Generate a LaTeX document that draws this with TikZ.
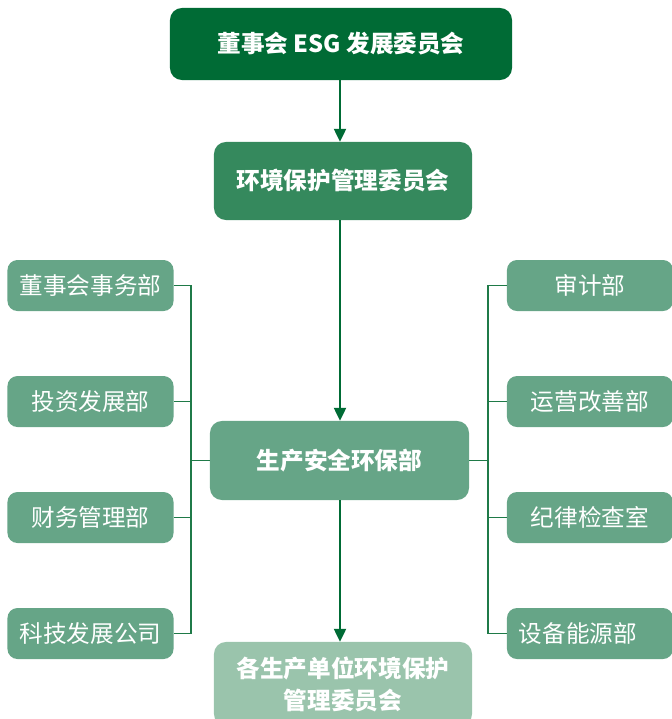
\documentclass[tikz,border=0pt]{standalone}
\usepackage{fontspec}
\setmainfont{Noto Sans CJK SC}
\usepackage{xcolor}
\usetikzlibrary{positioning,arrows.meta}
\definecolor{esgdark}{HTML}{006B35}
\definecolor{esgmid}{HTML}{35895D}
\definecolor{esglight}{HTML}{66A587}
\definecolor{esgpale}{HTML}{9AC4AC}
\definecolor{esgline}{HTML}{1F7A48}

\begin{document}
\begin{tikzpicture}[x=0.025cm, y=-0.025cm,
    box/.style={rounded corners=0.3cm, text=white, align=center, inner sep=0pt,
                font=\fontsize{16.8}{22.7}\selectfont},
    bigbox/.style={box, minimum width=6.45cm, minimum height=1.95cm, font=\fontsize{16.8}{22.7}\selectfont\bfseries},
    deptbox/.style={box, fill=esglight, rounded corners=0.25cm, minimum width=4.15cm, minimum height=1.275cm},
    flow/.style={draw=esgdark, line width=1.4pt, -{Triangle[length=0.32cm,width=0.3cm]}},
    bus/.style={draw=esgline, line width=0.9pt}]
    \useasboundingbox (0,0) rectangle (672,719);
    \node (board) [bigbox, fill=esgdark, minimum width=8.55cm, minimum height=1.8cm] at (341,44) {董事会 ESG 发展委员会};
    \node (envcom) [bigbox, fill=esgmid] at (343,181) {环境保护管理委员会};
    \node (safety) [bigbox, fill=esglight, minimum width=6.475cm, minimum height=1.975cm] at (339.5,460.5) {生产安全环保部};
    \node (units) [bigbox, fill=esgpale, minimum height=2.1cm] at (343,684) {各生产单位环境保护\\管理委员会};
    % left departments
    \node (boardoff) [deptbox] at (90.5,285.5) {董事会事务部};
    \node (invest) [deptbox] at (90.5,401.5) {投资发展部};
    \node (finance) [deptbox] at (90.5,517.5) {财务管理部};
    \node (tech) [deptbox] at (90.5,633.5) {科技发展公司};
    % right departments
    \node (audit) [deptbox] at (590,285.5) {审计部};
    \node (improve) [deptbox] at (590,401.5) {运营改善部};
    \node (discip) [deptbox] at (590,517.5) {纪律检查室};
    \node (energy) [deptbox] at (590,633.5) {设备能源部\hspace{0.6cm}};
    \coordinate (lbus) at (191,460.5);
    \coordinate (rbus) at (488,460.5);
    \draw [bus] (safety.west) -- (lbus);
    \draw [bus] (safety.east) -- (rbus);
    \foreach \d in {boardoff,invest,finance,tech}
        \draw [bus] (\d.east) -| (lbus);
    \foreach \d in {audit,improve,discip,energy}
        \draw [bus] (\d.west) -| (rbus);
    \coordinate (axis) at (340,0);
    \draw [flow] (board.south -| axis) -- (envcom.north -| axis);
    \draw [flow] (envcom.south -| axis) -- (safety.north -| axis);
    \draw [flow] (safety.south -| axis) -- (units.north -| axis);
\end{tikzpicture}
\end{document}
